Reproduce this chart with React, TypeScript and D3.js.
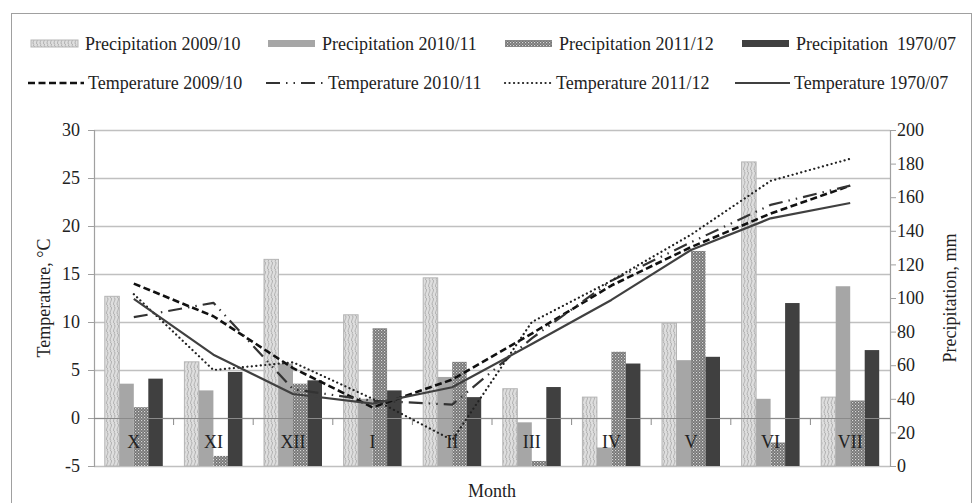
import { useRef, useEffect } from 'react';
import * as d3 from 'd3';

const months = ["X", "XI", "XII", "I", "II", "III", "IV", "V", "VI", "VII"];

// precipitation, mm (right axis)
const precip0910 = [101, 62, 123, 90, 112, 46, 41, 85, 181, 41];
const precip1011 = [49, 45, 61, 40, 53, 26, 11, 63, 40, 107];
const precip1112 = [35, 6, 49, 82, 62, 3, 68, 128, 14, 39];
const precip7007 = [52, 56, 51, 45, 41, 47, 61, 65, 97, 69];

// temperature, °C (left axis)
const temp0910 = [14.0, 10.6, 5.2, 1.1, 4.0, 8.8, 13.8, 17.8, 21.3, 24.2];
const temp1011 = [10.5, 12.0, 3.0, 1.8, 1.4, 8.3, 14.3, 18.3, 22.2, 24.2];
const temp1112 = [12.9, 5.0, 5.8, 2.0, -2.3, 10.0, 14.3, 19.1, 24.7, 27.0];
const temp7007 = [12.4, 6.6, 2.5, 1.5, 3.2, 7.7, 12.3, 17.5, 20.8, 22.4];

const tempTicks = [-5, 0, 5, 10, 15, 20, 25, 30];
const precipTicks = [0, 20, 40, 60, 80, 100, 120, 140, 160, 180, 200];

const barSeries = [
  { key: "p0910", label: "Precipitation 2009/10", values: precip0910, fill: "url(#wave)", stroke: "#b5b5b5" },
  { key: "p1011", label: "Precipitation 2010/11", values: precip1011, fill: "#a6a6a6", stroke: "none" },
  { key: "p1112", label: "Precipitation 2011/12", values: precip1112, fill: "url(#checks)", stroke: "none" },
  { key: "p7007", label: "Precipitation  1970/07", values: precip7007, fill: "#404040", stroke: "none" },
];

const lineSeries = [
  { key: "t0910", label: "Temperature 2009/10", values: temp0910, color: "#111", width: 2.6, dash: "7,3.5", cap: "butt" },
  { key: "t1011", label: "Temperature 2010/11", values: temp1011, color: "#333", width: 2.2, dash: "14,6,1.5,6,1.5,6", cap: "butt" },
  { key: "t1112", label: "Temperature 2011/12", values: temp1112, color: "#222", width: 2.2, dash: "0.1,4.4", cap: "round" },
  { key: "t7007", label: "Temperature 1970/07", values: temp7007, color: "#404040", width: 2.2, dash: null, cap: "butt" },
];

const W = 973;
const H = 503;
const left = 94;
const right = 890;
const top = 130;
const bottom = 466;
const font = "'Liberation Serif', 'Times New Roman', serif";

export default function App() {
  const svgRef = useRef<SVGSVGElement>(null);

  useEffect(() => {
    const svg = d3.select(svgRef.current);
    if (!svg.node()) return;
    svg.selectAll("*").remove();

    const defs = svg.append("defs");
    const wave = defs.append("pattern")
      .attr("id", "wave")
      .attr("patternUnits", "userSpaceOnUse")
      .attr("width", 7)
      .attr("height", 9);
    wave.append("rect").attr("width", 7).attr("height", 9).attr("fill", "#dedede");
    wave.append("path")
      .attr("d", "M1.5,0 C6,2.2 -1.5,6.8 3,9 M5,0 C9.5,2.2 2,6.8 6.5,9")
      .attr("fill", "none")
      .attr("stroke", "#a3a3a3")
      .attr("stroke-width", 0.8);

    const checks = defs.append("pattern")
      .attr("id", "checks")
      .attr("patternUnits", "userSpaceOnUse")
      .attr("width", 3)
      .attr("height", 3);
    checks.append("rect").attr("width", 3).attr("height", 3).attr("fill", "#737373");
    checks.append("rect").attr("width", 1.2).attr("height", 1.2).attr("fill", "#d8d8d8");
    checks.append("rect").attr("x", 1.5).attr("y", 1.5).attr("width", 1.2).attr("height", 1.2).attr("fill", "#b5b5b5");

    // chart frame
    svg.append("rect")
      .attr("x", 11.5).attr("y", 13.5)
      .attr("width", 960).attr("height", 500)
      .attr("fill", "white")
      .attr("stroke", "#a0a0a0");

    const x = d3.scaleBand<string>().domain(months).range([left, right]).padding(0);
    const xs = d3.scaleBand<string>()
      .domain(barSeries.map(s => s.key))
      .range([0, x.bandwidth()])
      .paddingInner(0)
      .paddingOuter(0.745);
    const yT = d3.scaleLinear().domain([-5, 30]).range([bottom, top]);
    const yP = d3.scaleLinear().domain([0, 200]).range([bottom, top]);

    const g = svg.append("g");

    // gridlines
    tempTicks.forEach(t => {
      g.append("line")
        .attr("x1", left).attr("x2", right)
        .attr("y1", yT(t) + 0.5).attr("y2", yT(t) + 0.5)
        .attr("stroke", "#c0c0c0")
        .attr("stroke-width", 1.3);
    });

    // bars
    barSeries.forEach(s => {
      g.append("g")
        .selectAll("rect")
        .data(s.values)
        .enter()
        .append("rect")
        .attr("x", (d, i) => (x(months[i]) || 0) + (xs(s.key) || 0))
        .attr("y", d => yP(d))
        .attr("width", xs.bandwidth())
        .attr("height", d => yP(0) - yP(d))
        .attr("fill", s.fill)
        .attr("stroke", s.stroke)
        .attr("stroke-width", 1);
    });

    // left axis
    const yAxisL = d3.axisLeft(yT).tickValues(tempTicks).tickSize(6).tickFormat(d3.format("d"));
    const axL = g.append("g").attr("transform", `translate(${left},0)`).call(yAxisL);
    axL.select(".domain").attr("stroke", "#a0a0a0").attr("stroke-width", 1.2);
    axL.selectAll(".tick line").attr("stroke", "#a0a0a0");
    axL.selectAll("text")
      .attr("x", -14)
      .style("font-family", font)
      .style("font-size", "18px")
      .style("fill", "#222")
      .text((d: any) => d < 0 ? "-" + Math.abs(d) : String(d));

    // right axis
    const yAxisR = d3.axisRight(yP).tickValues(precipTicks).tickSize(6).tickFormat(d3.format("d"));
    const axR = g.append("g").attr("transform", `translate(${right},0)`).call(yAxisR);
    axR.select(".domain").attr("stroke", "#a0a0a0").attr("stroke-width", 1.2);
    axR.selectAll(".tick line").attr("stroke", "#a0a0a0");
    axR.selectAll("text")
      .attr("x", 7)
      .style("font-family", font)
      .style("font-size", "18px")
      .style("fill", "#222");

    // category axis at 0 °C
    const y0 = yT(0);
    g.append("line")
      .attr("x1", left).attr("x2", right)
      .attr("y1", y0 + 0.5).attr("y2", y0 + 0.5)
      .attr("stroke", "#8a8a8a")
      .attr("stroke-width", 1.2);
    months.forEach((m, i) => {
      if (i > 0) {
        g.append("line")
          .attr("x1", x(m) || 0).attr("x2", x(m) || 0)
          .attr("y1", y0).attr("y2", y0 + 7)
          .attr("stroke", "#8a8a8a");
      }
      g.append("text")
        .attr("x", (x(m) || 0) + x.bandwidth() / 2)
        .attr("y", y0 + 30)
        .attr("text-anchor", "middle")
        .style("font-family", font)
        .style("font-size", "18px")
        .style("fill", "#222")
        .text(m);
    });

    // temperature lines
    const line = d3.line<number>()
      .x((d, i) => (x(months[i]) || 0) + x.bandwidth() / 2)
      .y(d => yT(d));
    lineSeries.forEach(s => {
      g.append("path")
        .datum(s.values)
        .attr("d", line)
        .attr("fill", "none")
        .attr("stroke", s.color)
        .attr("stroke-width", s.width)
        .attr("stroke-dasharray", s.dash)
        .attr("stroke-linecap", s.cap)
        .attr("stroke-linejoin", "round");
    });

    // axis titles
    g.append("text")
      .attr("transform", `translate(50,${(top + bottom) / 2}) rotate(-90)`)
      .attr("text-anchor", "middle")
      .style("font-family", font)
      .style("font-size", "18px")
      .style("fill", "#222")
      .text("Temperature, °C");
    g.append("text")
      .attr("transform", `translate(956,${(top + bottom) / 2}) rotate(-90)`)
      .attr("text-anchor", "middle")
      .style("font-family", font)
      .style("font-size", "18px")
      .style("fill", "#222")
      .text("Precipitation, mm");
    g.append("text")
      .attr("x", (left + right) / 2)
      .attr("y", 497)
      .attr("text-anchor", "middle")
      .style("font-family", font)
      .style("font-size", "18px")
      .style("fill", "#222")
      .text("Month");

    // legend
    const legX = [31, 268, 505, 742];
    const lg = svg.append("g");
    barSeries.forEach((s, i) => {
      lg.append("rect")
        .attr("x", legX[i]).attr("y", 40)
        .attr("width", 47).attr("height", 7)
        .attr("fill", s.fill)
        .attr("stroke", s.stroke);
      lg.append("text")
        .attr("x", legX[i] + 54).attr("y", 50)
        .style("font-family", font)
        .style("font-size", "18px")
        .style("fill", "#222")
        .style("white-space", "pre")
        .text(s.label);
    });
    const legX2 = [28, 266, 505, 735];
    const legLen = [56, 58, 47, 55];
    lineSeries.forEach((s, i) => {
      lg.append("line")
        .attr("x1", legX2[i]).attr("x2", legX2[i] + legLen[i])
        .attr("y1", 83).attr("y2", 83)
        .attr("stroke", s.color)
        .attr("stroke-width", s.width)
        .attr("stroke-dasharray", s.dash)
        .attr("stroke-linecap", s.cap);
      lg.append("text")
        .attr("x", legX2[i] + legLen[i] + 4).attr("y", 89)
        .style("font-family", font)
        .style("font-size", "18px")
        .style("fill", "#222")
        .text(s.label);
    });
  }, []);

  return (
    <div style={{ position: "absolute", left: 0, top: 0 }}>
      <svg ref={svgRef} width={W} height={H} style={{ display: "block", background: "white" }} />
    </div>
  );
}
